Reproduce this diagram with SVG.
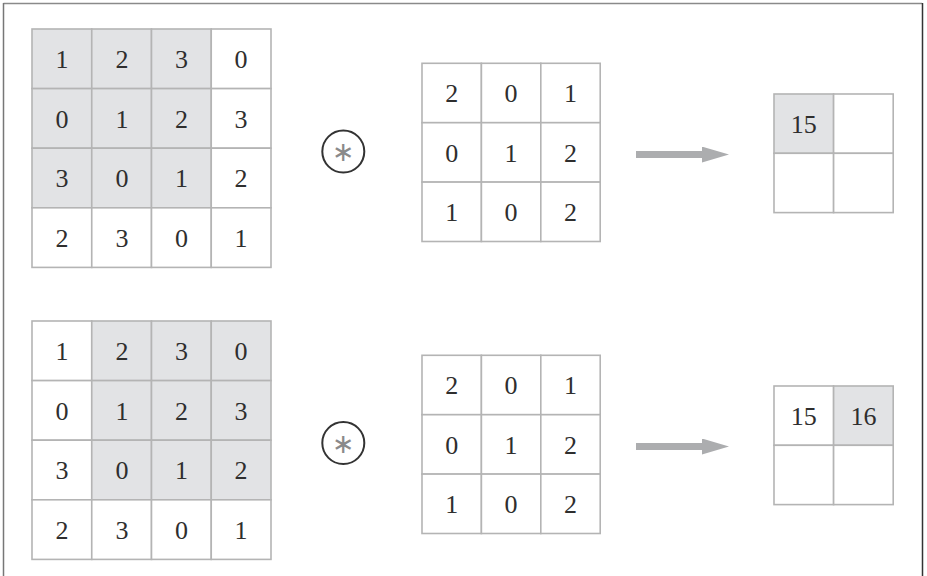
<svg xmlns="http://www.w3.org/2000/svg" width="927" height="576" viewBox="0 0 927 576">
<style>
.c{fill:#ffffff;stroke:#b4b4b4;stroke-width:1.6}
.g{fill:#e2e3e5;stroke:#b4b4b4;stroke-width:1.6}
.t{font-family:"Liberation Serif","Times New Roman",serif;font-size:26px;fill:#2e2e2e;text-anchor:middle}
.op{fill:none;stroke:#333333;stroke-width:2}
.ast{font-family:"DejaVu Sans",sans-serif;font-size:27px;fill:#8a8a8a;text-anchor:middle}
.arr{stroke:#acadaf;stroke-width:7;fill:none}
</style>
<defs>
<marker id="ah" markerUnits="userSpaceOnUse" markerWidth="28" markerHeight="16" refX="0" refY="8" orient="auto">
<path d="M0,0 L27,8 L0,16 Z" fill="#acadaf"/>
</marker>
</defs>
<rect x="0" y="0" width="927" height="576" fill="#ffffff"/>
<line x1="3.5" y1="3.5" x2="922" y2="3.5" stroke="#8a8a8a" stroke-width="1.5"/>
<line x1="3.5" y1="3" x2="3.5" y2="576" stroke="#777777" stroke-width="1.5"/>
<line x1="922.5" y1="3" x2="922.5" y2="576" stroke="#333333" stroke-width="1.5"/>

<g id="input-top">
<rect class="g" x="32" y="29" width="59.75" height="59.6"/><rect class="g" x="91.75" y="29" width="59.75" height="59.6"/><rect class="g" x="151.5" y="29" width="59.75" height="59.6"/><rect class="c" x="211.25" y="29" width="59.75" height="59.6"/>
<rect class="g" x="32" y="88.6" width="59.75" height="59.6"/><rect class="g" x="91.75" y="88.6" width="59.75" height="59.6"/><rect class="g" x="151.5" y="88.6" width="59.75" height="59.6"/><rect class="c" x="211.25" y="88.6" width="59.75" height="59.6"/>
<rect class="g" x="32" y="148.2" width="59.75" height="59.6"/><rect class="g" x="91.75" y="148.2" width="59.75" height="59.6"/><rect class="g" x="151.5" y="148.2" width="59.75" height="59.6"/><rect class="c" x="211.25" y="148.2" width="59.75" height="59.6"/>
<rect class="c" x="32" y="207.8" width="59.75" height="59.6"/><rect class="c" x="91.75" y="207.8" width="59.75" height="59.6"/><rect class="c" x="151.5" y="207.8" width="59.75" height="59.6"/><rect class="c" x="211.25" y="207.8" width="59.75" height="59.6"/>
<text class="t" x="62" y="68">1</text><text class="t" x="122" y="68">2</text><text class="t" x="181.5" y="68">3</text><text class="t" x="241" y="68">0</text>
<text class="t" x="62" y="127.5">0</text><text class="t" x="122" y="127.5">1</text><text class="t" x="181.5" y="127.5">2</text><text class="t" x="241" y="127.5">3</text>
<text class="t" x="62" y="187">3</text><text class="t" x="122" y="187">0</text><text class="t" x="181.5" y="187">1</text><text class="t" x="241" y="187">2</text>
<text class="t" x="62" y="246.5">2</text><text class="t" x="122" y="246.5">3</text><text class="t" x="181.5" y="246.5">0</text><text class="t" x="241" y="246.5">1</text>
</g>

<g id="op-top">
<circle class="op" cx="343.3" cy="151.5" r="21"/>
<text class="ast" x="343.3" y="161">∗</text>
</g>

<g id="kernel-top">
<rect class="c" x="422" y="63.3" width="59.4" height="59.4"/><rect class="c" x="481.4" y="63.3" width="59.4" height="59.4"/><rect class="c" x="540.8" y="63.3" width="59.4" height="59.4"/>
<rect class="c" x="422" y="122.7" width="59.4" height="59.4"/><rect class="c" x="481.4" y="122.7" width="59.4" height="59.4"/><rect class="c" x="540.8" y="122.7" width="59.4" height="59.4"/>
<rect class="c" x="422" y="182.1" width="59.4" height="59.4"/><rect class="c" x="481.4" y="182.1" width="59.4" height="59.4"/><rect class="c" x="540.8" y="182.1" width="59.4" height="59.4"/>
<text class="t" x="451.7" y="102">2</text><text class="t" x="511.1" y="102">0</text><text class="t" x="570.5" y="102">1</text>
<text class="t" x="451.7" y="161.5">0</text><text class="t" x="511.1" y="161.5">1</text><text class="t" x="570.5" y="161.5">2</text>
<text class="t" x="451.7" y="221">1</text><text class="t" x="511.1" y="221">0</text><text class="t" x="570.5" y="221">2</text>
</g>

<g id="output-top">
<rect class="g" x="774" y="94" width="59.6" height="59.3"/><rect class="c" x="833.6" y="94" width="59.6" height="59.3"/>
<rect class="c" x="774" y="153.3" width="59.6" height="59.3"/><rect class="c" x="833.6" y="153.3" width="59.6" height="59.3"/>
<text class="t" x="803.8" y="132.5">15</text>
</g>

<g id="input-bottom">
<rect class="c" x="32" y="321" width="59.75" height="59.6"/><rect class="g" x="91.75" y="321" width="59.75" height="59.6"/><rect class="g" x="151.5" y="321" width="59.75" height="59.6"/><rect class="g" x="211.25" y="321" width="59.75" height="59.6"/>
<rect class="c" x="32" y="380.6" width="59.75" height="59.6"/><rect class="g" x="91.75" y="380.6" width="59.75" height="59.6"/><rect class="g" x="151.5" y="380.6" width="59.75" height="59.6"/><rect class="g" x="211.25" y="380.6" width="59.75" height="59.6"/>
<rect class="c" x="32" y="440.2" width="59.75" height="59.6"/><rect class="g" x="91.75" y="440.2" width="59.75" height="59.6"/><rect class="g" x="151.5" y="440.2" width="59.75" height="59.6"/><rect class="g" x="211.25" y="440.2" width="59.75" height="59.6"/>
<rect class="c" x="32" y="499.8" width="59.75" height="59.6"/><rect class="c" x="91.75" y="499.8" width="59.75" height="59.6"/><rect class="c" x="151.5" y="499.8" width="59.75" height="59.6"/><rect class="c" x="211.25" y="499.8" width="59.75" height="59.6"/>
<text class="t" x="62" y="360">1</text><text class="t" x="122" y="360">2</text><text class="t" x="181.5" y="360">3</text><text class="t" x="241" y="360">0</text>
<text class="t" x="62" y="419.5">0</text><text class="t" x="122" y="419.5">1</text><text class="t" x="181.5" y="419.5">2</text><text class="t" x="241" y="419.5">3</text>
<text class="t" x="62" y="479">3</text><text class="t" x="122" y="479">0</text><text class="t" x="181.5" y="479">1</text><text class="t" x="241" y="479">2</text>
<text class="t" x="62" y="538.5">2</text><text class="t" x="122" y="538.5">3</text><text class="t" x="181.5" y="538.5">0</text><text class="t" x="241" y="538.5">1</text>
</g>

<g id="op-bottom">
<circle class="op" cx="343.3" cy="443" r="21"/>
<text class="ast" x="343.3" y="452.5">∗</text>
</g>

<g id="kernel-bottom">
<rect class="c" x="422" y="355.3" width="59.4" height="59.4"/><rect class="c" x="481.4" y="355.3" width="59.4" height="59.4"/><rect class="c" x="540.8" y="355.3" width="59.4" height="59.4"/>
<rect class="c" x="422" y="414.7" width="59.4" height="59.4"/><rect class="c" x="481.4" y="414.7" width="59.4" height="59.4"/><rect class="c" x="540.8" y="414.7" width="59.4" height="59.4"/>
<rect class="c" x="422" y="474.1" width="59.4" height="59.4"/><rect class="c" x="481.4" y="474.1" width="59.4" height="59.4"/><rect class="c" x="540.8" y="474.1" width="59.4" height="59.4"/>
<text class="t" x="451.7" y="394">2</text><text class="t" x="511.1" y="394">0</text><text class="t" x="570.5" y="394">1</text>
<text class="t" x="451.7" y="453.5">0</text><text class="t" x="511.1" y="453.5">1</text><text class="t" x="570.5" y="453.5">2</text>
<text class="t" x="451.7" y="513">1</text><text class="t" x="511.1" y="513">0</text><text class="t" x="570.5" y="513">2</text>
</g>

<g id="output-bottom">
<rect class="c" x="774" y="386" width="59.6" height="59.3"/><rect class="g" x="833.6" y="386" width="59.6" height="59.3"/>
<rect class="c" x="774" y="445.3" width="59.6" height="59.3"/><rect class="c" x="833.6" y="445.3" width="59.6" height="59.3"/>
<text class="t" x="803.8" y="424.5">15</text><text class="t" x="863.4" y="424.5">16</text>
</g>

<g id="connectors">
<line class="arr" x1="636" y1="154.6" x2="702" y2="154.6" marker-end="url(#ah)"/>
<line class="arr" x1="636" y1="446.5" x2="702" y2="446.5" marker-end="url(#ah)"/>
</g>
</svg>
